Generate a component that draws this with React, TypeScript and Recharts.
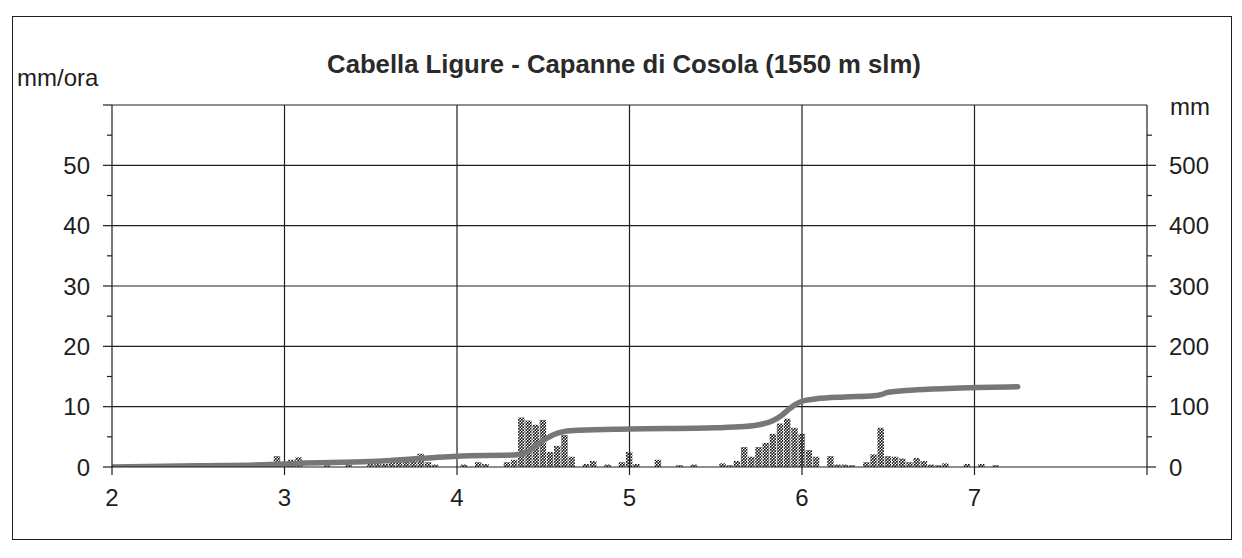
import React from 'react';
import { ComposedChart, Bar, Line, XAxis, YAxis, ReferenceLine } from 'recharts';

// x values are hours; 24 h = 1 day on the axis
const dayTicks = [48, 72, 96, 120, 144, 168, 192];
const rateTicks = [0, 5, 10, 15, 20, 25, 30, 35, 40, 45, 50, 55, 60];
const totalTicks = [0, 50, 100, 150, 200, 250, 300, 350, 400, 450, 500, 550, 600];
const rateGrid = [10, 20, 30, 40, 50, 60];

// hourly rain (mm/ora)
const rainHours = [
  70, 71, 73, 74, 78, 81, 84, 85, 86, 87, 88, 89, 90, 91, 92, 93,
  97, 99, 100, 103, 104, 105, 106, 107, 108, 109, 110, 111, 112, 114, 115, 117,
  119, 120, 121, 124, 127, 129, 133, 134, 135, 136, 137, 138, 139, 140, 141, 142,
  143, 144, 145, 146, 148, 149, 150, 151, 153, 154, 155, 156, 157, 158, 159, 160,
  161, 162, 163, 164, 167, 169, 171,
];
const rainRates = [
  0.8, 1.8, 1.2, 1.6, 0.3, 0.4, 0.5, 0.6, 0.5, 0.7, 0.8, 0.9, 1.0, 2.2, 0.8, 0.4,
  0.4, 0.8, 0.5, 0.8, 1.2, 8.2, 7.7, 7.0, 7.8, 2.5, 3.5, 5.3, 1.7, 0.5, 1.0, 0.4,
  0.8, 2.5, 0.5, 1.2, 0.3, 0.4, 0.6, 0.3, 1.0, 3.3, 1.7, 3.3, 4.0, 5.5, 7.2, 8.0,
  6.5, 5.5, 2.8, 1.7, 1.8, 0.4, 0.4, 0.3, 0.8, 2.1, 6.5, 1.8, 1.7, 1.4, 0.8, 1.5,
  1.0, 0.4, 0.3, 0.6, 0.5, 0.5, 0.3,
];

// cumulated rain (mm)
const cumHours = [
  48, 60, 70, 74, 84, 92, 96, 104, 106, 107, 108, 109, 110, 111, 113, 120,
  132, 136, 138, 140, 141, 142, 143, 144, 146, 150, 154, 155, 156, 160, 166, 174,
];
const cumTotals = [
  0, 2, 4, 6, 9, 15, 18, 20, 26, 36, 44, 51, 56, 59, 61, 63,
  65, 67, 70, 77, 84, 94, 103, 109, 113, 116, 118, 120, 124, 128, 131, 133,
];

const rainData = rainHours.map((h, i) => ({ h, rate: rainRates[i] }));
const cumData = cumHours.map((h, i) => ({ h, total: cumTotals[i] }));

const FONT = '"Liberation Sans", Arial, Helvetica, sans-serif';
const INK = '#1e1e1e';

const LeftTick = (props: any) => {
  const { x, y, payload } = props;
  const v = payload.value;
  const major = v % 10 === 0;
  const ax = x + 22;
  return (
    <g>
      <line x1={ax - (major ? 9 : 5)} x2={ax} y1={y} y2={y} stroke={INK} strokeWidth={1.2} />
      {major && v < 60 && (
        <text x={x} y={y} dy="0.36em" textAnchor="end" fontSize={24} fontFamily={FONT} fill={INK}>
          {v}
        </text>
      )}
    </g>
  );
};

const RightTick = (props: any) => {
  const { x, y, payload } = props;
  const v = payload.value;
  const major = v % 100 === 0;
  const ax = x - 22;
  return (
    <g>
      {v < 600 && <line x1={ax} x2={ax + (major ? 9 : 5)} y1={y} y2={y} stroke={INK} strokeWidth={1.2} />}
      {major && v < 600 && (
        <text x={x} y={y} dy="0.36em" textAnchor="start" fontSize={24} fontFamily={FONT} fill={INK}>
          {v}
        </text>
      )}
    </g>
  );
};

export default function App() {
  return (
    <div style={{ position: 'relative', width: 1226, height: 542, fontFamily: FONT, color: INK }}>
      <div
        style={{
          position: 'absolute', left: 4, top: 8, width: 1218, height: 522,
          border: `1.5px solid ${INK}`,
        }}
      />
      <div
        style={{
          position: 'absolute', left: 216, top: 41, width: 800, lineHeight: '30px',
          textAlign: 'center', fontSize: 25.7, fontWeight: 'bold', color: '#2a2a2a',
        }}
      >
        Cabella Ligure - Capanne di Cosola (1550 m slm)
      </div>
      <div style={{ position: 'absolute', left: 9, top: 55, lineHeight: '30px', fontSize: 24 }}>mm/ora</div>
      <div style={{ position: 'absolute', left: 1162, top: 84, lineHeight: '30px', fontSize: 24 }}>mm</div>
      <div style={{ position: 'absolute', left: 0, top: 0 }}>
        <ComposedChart
          width={1226}
          height={540}
          data={rainData}
          margin={{ top: 97, right: 0, left: 0, bottom: 51 }}
          barGap={0}
          barCategoryGap={0}
        >
          <defs>
            <pattern id="stipple" width="3" height="3" patternUnits="userSpaceOnUse">
              <rect width="3" height="3" fill="#ffffff" />
              <circle cx="0.75" cy="0.75" r="0.95" fill="#111" />
              <circle cx="2.25" cy="2.25" r="0.95" fill="#111" />
            </pattern>
          </defs>
          <XAxis
            dataKey="h"
            type="number"
            domain={[48, 192]}
            ticks={dayTicks}
            allowDataOverflow
            height={30}
            tickSize={8}
            tickMargin={14}
            tickFormatter={(v: number) => (v === 192 ? '' : String(v / 24))}
            tick={{ fontSize: 24, fontFamily: FONT, fill: INK }}
            axisLine={{ stroke: INK, strokeWidth: 1.2 }}
            tickLine={{ stroke: INK, strokeWidth: 1.2 }}
          />
          <YAxis
            yAxisId="left"
            orientation="left"
            domain={[0, 60]}
            ticks={rateTicks}
            allowDataOverflow
            width={104}
            tickSize={8}
            tickMargin={14}
            tickLine={false}
            tick={<LeftTick />}
            axisLine={{ stroke: INK, strokeWidth: 1.2 }}
            interval={0}
          />
          <YAxis
            yAxisId="right"
            orientation="right"
            domain={[0, 600]}
            ticks={totalTicks}
            allowDataOverflow
            width={87}
            tickSize={8}
            tickMargin={14}
            tickLine={false}
            tick={<RightTick />}
            axisLine={{ stroke: INK, strokeWidth: 1.2 }}
            interval={0}
          />
          {rateGrid.map((v) => (
            <ReferenceLine key={'h' + v} yAxisId="left" y={v} stroke={INK} strokeWidth={1.2} />
          ))}
          {dayTicks.slice(1, -1).map((v) => (
            <ReferenceLine key={'v' + v} yAxisId="left" x={v} stroke={INK} strokeWidth={1.2} />
          ))}
          <Bar
            yAxisId="left"
            dataKey="rate"
            barSize={8}
            fill="url(#stipple)"
            isAnimationActive={false}
          />
          <Line
            yAxisId="right"
            data={cumData}
            dataKey="total"
            type="monotone"
            stroke="#777777"
            strokeWidth={5.5}
            strokeLinecap="round"
            dot={false}
            activeDot={false}
            isAnimationActive={false}
          />
        </ComposedChart>
      </div>
    </div>
  );
}
